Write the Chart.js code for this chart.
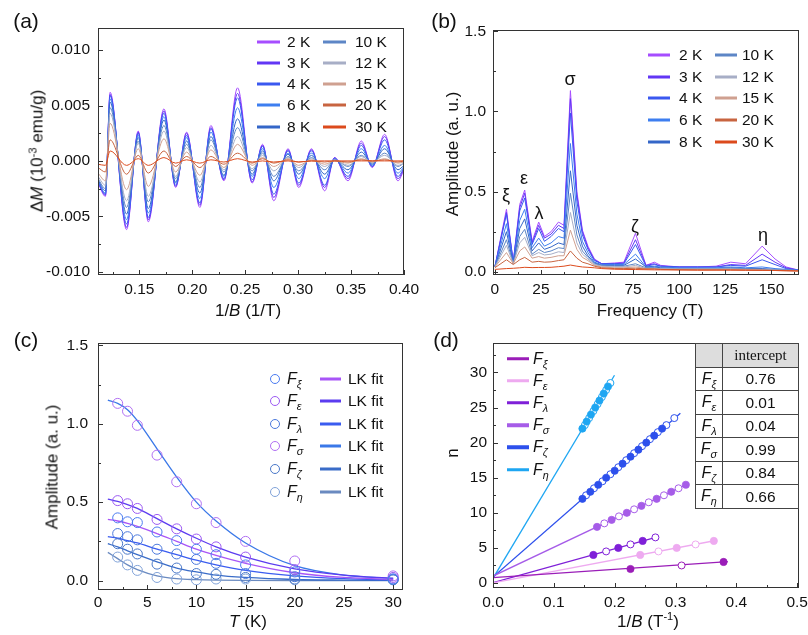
<!DOCTYPE html>
<html><head><meta charset="utf-8">
<script src="https://cdn.jsdelivr.net/npm/chart.js@4.4.1/dist/chart.umd.min.js"></script>
<style>
body{margin:0;background:#fff;}
#wrap{position:relative;width:808px;height:635px;overflow:hidden;font-family:'Liberation Sans',Arial,sans-serif;color:#111;}
canvas{position:absolute;left:0;top:0;}
.t{position:absolute;white-space:nowrap;line-height:1;}
.c{transform:translate(-50%,-50%);}
.r{transform:translate(-50%,-50%) rotate(-90deg);}
.lt{position:absolute;white-space:nowrap;line-height:1;transform:translateY(-50%);font-size:15.5px;}
.sw{position:absolute;height:3px;transform:translateY(-50%);}
.cir{position:absolute;width:8px;height:8px;border-radius:50%;border:1px solid;transform:translate(-50%,-50%);background:#fff;}
sub{font-size:68%;vertical-align:-0.35em;line-height:0;}
sup{font-size:65%;vertical-align:0.55em;line-height:0;}
table.tb{position:absolute;left:695px;top:343px;border-collapse:collapse;}
table.tb td{border:1px solid #444;height:22.5px;padding:0;text-align:center;font-size:15.5px;line-height:1;}
</style></head>
<body><div id="wrap">
<canvas id="ca" width="808" height="635"></canvas>
<canvas id="cb" width="808" height="635"></canvas>
<canvas id="cc" width="808" height="635"></canvas>
<canvas id="cd" width="808" height="635"></canvas>
</div>
<script>
// ---------------- DATA ----------------
const tempLabels = ['2 K','3 K','4 K','6 K','8 K','10 K','12 K','15 K','20 K','30 K'];
const tempColors = ['#a64dff','#6236f5','#3a58f0','#3d7ef0','#3466c8','#5d86c6','#a7aec6','#cfa090','#c86440','#dc4a1c'];

// (a) ΔM vs 1/B
const invB_a = [0.111,0.118,0.1224,0.138,0.149,0.1585,0.1733,0.1843,0.1947,0.2072,0.2176,0.2299,0.2428,0.2566,0.2664,0.2770,0.2905,0.3006,0.3126,0.3251,0.3345,0.3471,0.3597,0.370,0.3817,0.3943,0.400];
const dM_2K  = [-0.0020,-0.0032,0.0062,-0.0062,0.0027,-0.0055,0.0047,-0.0024,0.0026,-0.0042,0.0032,-0.0018,0.0066,-0.0020,0.0015,-0.0036,0.0011,-0.0024,0.0011,-0.0027,0.0003,-0.0018,0.0018,-0.0006,0.0024,-0.0018,-0.0008];
const dM_3K  = [-0.0019,-0.0031,0.0060,-0.0060,0.0026,-0.0053,0.0045,-0.0023,0.0025,-0.0040,0.0030,-0.0017,0.0061,-0.0019,0.0014,-0.0033,0.0010,-0.0022,0.0010,-0.0024,0.0003,-0.0016,0.0016,-0.0005,0.0022,-0.0016,-0.0007];
const dM_4K  = [-0.0019,-0.0030,0.0059,-0.0057,0.0025,-0.0051,0.0043,-0.0022,0.0023,-0.0038,0.0029,-0.0016,0.0057,-0.0017,0.0013,-0.0030,0.0009,-0.0020,0.0009,-0.0022,0.0002,-0.0014,0.0014,-0.0005,0.0019,-0.0014,-0.0006];
const dM_6K  = [-0.0018,-0.0029,0.0056,-0.0053,0.0023,-0.0047,0.0040,-0.0020,0.0021,-0.0034,0.0026,-0.0014,0.0048,-0.0014,0.0011,-0.0024,0.0007,-0.0016,0.0007,-0.0016,0.0002,-0.0011,0.0011,-0.0004,0.0014,-0.0011,-0.0005];
const dM_8K  = [-0.0017,-0.0027,0.0053,-0.0048,0.0021,-0.0043,0.0037,-0.0019,0.0018,-0.0029,0.0022,-0.0013,0.0038,-0.0012,0.0009,-0.0018,0.0006,-0.0012,0.0005,-0.0012,0.0001,-0.0008,0.0008,-0.0003,0.0011,-0.0008,-0.0004];
const dM_10K = [-0.0016,-0.0025,0.0048,-0.0042,0.0018,-0.0037,0.0032,-0.0016,0.0015,-0.0024,0.0019,-0.0010,0.0030,-0.0009,0.0007,-0.0014,0.0004,-0.0009,0.0003,-0.0008,0.0001,-0.0005,0.0005,-0.0002,0.0007,-0.0005,-0.0002];
const dM_12K = [-0.0014,-0.0022,0.0043,-0.0036,0.0016,-0.0032,0.0027,-0.0014,0.0012,-0.0019,0.0014,-0.0008,0.0022,-0.0007,0.0005,-0.0009,0.0003,-0.0006,0.0002,-0.0005,0.0001,-0.0004,0.0004,-0.0001,0.0005,-0.0004,-0.0002];
const dM_15K = [-0.0011,-0.0018,0.0034,-0.0026,0.0011,-0.0023,0.0020,-0.0010,0.0008,-0.0013,0.0010,-0.0006,0.0015,-0.0004,0.0003,-0.0005,0.0002,-0.0004,0.0001,-0.0003,0.0000,-0.0002,0.0002,-0.0001,0.0002,-0.0002,-0.0001];
const dM_20K = [-0.0006,-0.0010,0.0019,-0.0012,0.0005,-0.0011,0.0009,-0.0005,0.0004,-0.0006,0.0004,-0.0003,0.0007,-0.0002,0.0002,-0.0002,0.0001,-0.0001,0.0000,-0.0001,0.0000,-0.0001,0.0001,0.0000,0.0001,-0.0001,0.0000];
const dM_30K = [-0.0003,-0.0004,0.0009,-0.0004,0.0002,-0.0004,0.0003,-0.0002,0.0001,-0.0002,0.0001,-0.0001,0.0002,-0.0001,0.0000,-0.0001,0.0000,-0.0001,0.0000,0.0000,0.0000,0.0000,0.0000,0.0000,0.0000,0.0000,0.0000];
const xTicksA = [0.15,0.20,0.25,0.30,0.35,0.40];
const yTicksA = [-0.010,-0.005,0.000,0.005,0.010];

// (b) FFT amplitude vs frequency
const freqB = [0,6.3,10,13.5,16.2,20.2,23.8,26.9,30.5,34.5,37.5,41,44.5,47.5,50.5,54,58,65,70,76.3,82,86.5,90,100,110,120,128,136,145,152,158,165];
const fft_2K  = [0.03,0.39,0.06,0.42,0.51,0.19,0.31,0.22,0.25,0.31,0.29,1.13,0.50,0.26,0.16,0.08,0.05,0.055,0.06,0.24,0.04,0.06,0.04,0.03,0.03,0.035,0.06,0.05,0.16,0.08,0.03,0.01];
const fft_3K  = [0.03,0.37,0.06,0.40,0.49,0.18,0.29,0.21,0.235,0.29,0.27,1.08,0.48,0.25,0.15,0.075,0.05,0.05,0.055,0.20,0.04,0.05,0.035,0.03,0.03,0.03,0.045,0.04,0.11,0.06,0.025,0.01];
const fft_4K  = [0.03,0.36,0.06,0.38,0.46,0.17,0.27,0.19,0.22,0.27,0.25,0.99,0.44,0.23,0.14,0.07,0.05,0.05,0.05,0.17,0.035,0.045,0.035,0.03,0.03,0.03,0.04,0.035,0.075,0.045,0.02,0.01];
const fft_6K  = [0.03,0.30,0.05,0.32,0.39,0.15,0.21,0.16,0.18,0.22,0.21,0.80,0.36,0.19,0.12,0.06,0.045,0.045,0.045,0.11,0.03,0.035,0.03,0.025,0.025,0.025,0.03,0.025,0.03,0.02,0.015,0.01];
const fft_8K  = [0.03,0.25,0.05,0.27,0.33,0.13,0.18,0.14,0.155,0.18,0.17,0.63,0.29,0.16,0.10,0.055,0.04,0.04,0.04,0.08,0.03,0.03,0.025,0.02,0.02,0.02,0.025,0.02,0.02,0.015,0.012,0.008];
const fft_10K = [0.03,0.20,0.05,0.22,0.265,0.11,0.14,0.12,0.13,0.15,0.145,0.49,0.23,0.13,0.09,0.05,0.04,0.035,0.035,0.05,0.025,0.025,0.02,0.02,0.02,0.02,0.02,0.02,0.015,0.012,0.01,0.008];
const fft_12K = [0.03,0.165,0.05,0.18,0.215,0.10,0.12,0.105,0.11,0.125,0.12,0.37,0.18,0.11,0.08,0.045,0.035,0.03,0.03,0.04,0.02,0.02,0.02,0.018,0.018,0.018,0.018,0.015,0.012,0.01,0.01,0.008];
const fft_15K = [0.03,0.12,0.05,0.13,0.155,0.085,0.095,0.085,0.09,0.10,0.10,0.26,0.14,0.09,0.07,0.04,0.03,0.025,0.025,0.03,0.02,0.02,0.015,0.015,0.015,0.015,0.015,0.012,0.01,0.01,0.008,0.006];
const fft_20K = [0.025,0.075,0.045,0.075,0.09,0.06,0.065,0.06,0.062,0.07,0.075,0.13,0.085,0.06,0.05,0.035,0.025,0.02,0.02,0.022,0.018,0.018,0.015,0.013,0.012,0.012,0.012,0.01,0.01,0.008,0.006,0.005];
const fft_30K = [0.015,0.02,0.022,0.025,0.028,0.026,0.027,0.027,0.028,0.032,0.035,0.042,0.035,0.03,0.028,0.025,0.02,0.016,0.015,0.014,0.013,0.012,0.012,0.011,0.01,0.01,0.01,0.01,0.009,0.008,0.007,0.005];
const xTicksB = [0,25,50,75,100,125,150];
const yTicksB = [0.0,0.5,1.0,1.5];
const peakNames = ['ξ','ε','λ','σ','ζ','η'];

// (c) amplitude vs temperature
const T_pts = [2,3,4,6,8,10,12,15,20,30];
const amp_xi   = [0.40,0.375,0.37,0.31,0.255,0.20,0.165,0.10,0.055,0.01];
const amp_eps  = [0.51,0.49,0.46,0.39,0.33,0.265,0.215,0.15,0.07,0.02];
const amp_lam  = [0.30,0.28,0.26,0.20,0.17,0.135,0.11,0.045,0.025,0.01];
const amp_sig  = [1.13,1.08,0.99,0.80,0.63,0.49,0.37,0.25,0.125,0.03];
const amp_zeta = [0.235,0.20,0.17,0.105,0.08,0.045,0.04,0.02,0.01,0.005];
const amp_eta  = [0.15,0.10,0.065,0.02,0.01,0.005,0.01,0.01,0.005,0.005];
const T_fit = [1,2,3,4,6,8,10,12,15,20,25,30];
const fit_xi   = [0.39,0.38,0.365,0.345,0.30,0.25,0.20,0.16,0.11,0.05,0.02,0.008];
const fit_eps  = [0.52,0.505,0.485,0.46,0.395,0.33,0.27,0.215,0.15,0.075,0.035,0.015];
const fit_lam  = [0.28,0.27,0.255,0.24,0.20,0.165,0.13,0.10,0.065,0.03,0.012,0.005];
const fit_sig  = [1.15,1.13,1.09,1.02,0.84,0.66,0.50,0.38,0.24,0.095,0.035,0.012];
const fit_zeta = [0.235,0.215,0.19,0.165,0.12,0.08,0.055,0.035,0.02,0.007,0.003,0.001];
const fit_eta  = [0.18,0.14,0.10,0.07,0.03,0.012,0.006,0.003,0.001,0,0,0];
const xTicksC = [0,5,10,15,20,25,30];
const yTicksC = [0.0,0.5,1.0,1.5];
const circleColorsC = ['#4a7bf0','#9b59f2','#4a78dc','#b06ff2','#4a78c8','#80a2d8'];
const fitColorsC = ['#a855f7','#5b3cf0','#3a5cf0','#3a78e8','#3a6cc8','#6a8ac0'];

// (d) Landau fan diagram
const colorsD = ['#9a1db8','#eeaaf0','#7f20d8','#a65ce8','#2d50ec','#1ea6f2'];
const xi_fill_x = [0.226,0.379], xi_fill_n = [2,3];
const xi_open_x = [0.310], xi_open_n = [2.5];
const xi_line_x = [0,0.386], xi_line_n = [0.76,3.05];
const eps_fill_x = [0.242,0.302,0.363], eps_fill_n = [4,5,6];
const eps_open_x = [0.272,0.333], eps_open_n = [4.5,5.5];
const eps_line_x = [0,0.366], eps_line_n = [0.01,6.06];
const lam_fill_x = [0.165,0.206,0.246], lam_fill_n = [4,5,6];
const lam_open_x = [0.186,0.226,0.267], lam_open_n = [4.5,5.5,6.5];
const lam_line_x = [0,0.272], lam_line_n = [0.04,6.6];
const sig_fill_x = [0.171,0.195,0.220,0.244,0.269,0.293,0.317], sig_fill_n = [8,9,10,11,12,13,14];
const sig_open_x = [0.183,0.207,0.232,0.256,0.281,0.305], sig_open_n = [8.5,9.5,10.5,11.5,12.5,13.5];
const sig_line_x = [0,0.322], sig_line_n = [0.99,14.2];
const zeta_fill_x = [0.147,0.160,0.173,0.186,0.200,0.213,0.226,0.239,0.252,0.265,0.278], zeta_fill_n = [12,13,14,15,16,17,18,19,20,21,22];
const zeta_open_x = [0.153,0.166,0.180,0.193,0.206,0.219,0.232,0.245,0.258,0.271,0.285,0.298], zeta_open_n = [12.5,13.5,14.5,15.5,16.5,17.5,18.5,19.5,20.5,21.5,22.5,23.5];
const zeta_line_x = [0,0.308], zeta_line_n = [0.84,24.2];
const eta_fill_x = [0.147,0.154,0.161,0.168,0.175,0.182,0.189], eta_fill_n = [22,23,24,25,26,27,28];
const eta_open_x = [0.151,0.158,0.165,0.172,0.179,0.186,0.193], eta_open_n = [22.5,23.5,24.5,25.5,26.5,27.5,28.5];
const eta_line_x = [0,0.1997], eta_line_n = [0.66,29.6];
const interceptVals = ['0.76','0.01','0.04','0.99','0.84','0.66'];
const xTicksD = [0.0,0.1,0.2,0.3,0.4,0.5];
const yTicksD = [0,5,10,15,20,25,30];

// ---------------- HELPERS ----------------
const FONT = "'Liberation Sans', Arial, sans-serif";
Chart.defaults.font.family = FONT;
Chart.defaults.color = '#111';

const framePlugin = {
  id: 'frame',
  afterDatasetsDraw(chart) {
    const {ctx, chartArea: a, scales: {x, y}} = chart;
    const o = chart.options.plugins.frame;
    ctx.save();
    ctx.strokeStyle = '#333'; ctx.lineWidth = 1;
    ctx.strokeRect(a.left + 0.5, a.top + 0.5, a.right - a.left - 1, a.bottom - a.top - 1);
    const minors = (ticks, lo, hi) => {
      const st = ticks[1] - ticks[0], out = [];
      for (let v = ticks[0] - st / 2; v <= hi + 1e-12; v += st) if (v >= lo - 1e-12) out.push(v);
      return out;
    };
    const tx = (v, len) => { const p = Math.round(x.getPixelForValue(v)) + 0.5; ctx.beginPath(); ctx.moveTo(p, a.bottom); ctx.lineTo(p, a.bottom - len); ctx.stroke(); };
    const ty = (v, len) => { const p = Math.round(y.getPixelForValue(v)) + 0.5; ctx.beginPath(); ctx.moveTo(a.left, p); ctx.lineTo(a.left + len, p); ctx.stroke(); };
    o.xt.forEach(v => tx(v, 5)); minors(o.xt, x.min, x.max).forEach(v => tx(v, 3));
    o.yt.forEach(v => ty(v, 5)); minors(o.yt, y.min, y.max).forEach(v => ty(v, 3));
    ctx.restore();
  }
};

function makeChart(id, area, ax, datasets) {
  const W = 808, H = 635, YW = 70, XH = 40;
  return new Chart(document.getElementById(id), {
    type: 'scatter',
    data: { datasets },
    options: {
      responsive: false, animation: false, events: [],
      layout: { padding: { left: area.l - YW, top: area.t, right: W - area.r, bottom: H - area.b - XH } },
      plugins: { legend: { display: false }, tooltip: { enabled: false }, frame: { xt: ax.xt, yt: ax.yt } },
      scales: {
        x: { type: 'linear', position: 'bottom', min: ax.xMin, max: ax.xMax,
          grid: { display: false, drawTicks: false }, border: { display: false },
          afterBuildTicks: s => { s.ticks = ax.xt.map(v => ({ value: v })); },
          afterFit: s => { s.height = XH; s.paddingLeft = 0; s.paddingRight = 0; },
          ticks: { padding: ax.xPad, maxRotation: 0, autoSkip: false, callback: ax.xf, font: { size: 15.5 }, color: '#111' } },
        y: { type: 'linear', position: 'left', min: ax.yMin, max: ax.yMax,
          grid: { display: false, drawTicks: false }, border: { display: false },
          afterBuildTicks: s => { s.ticks = ax.yt.map(v => ({ value: v })); },
          afterFit: s => { s.width = YW; s.paddingTop = 0; s.paddingBottom = 0; },
          ticks: { padding: ax.yPad, autoSkip: false, callback: ax.yf, font: { size: 15.5 }, color: '#111' } }
      }
    },
    plugins: [framePlugin]
  });
}
const pts = (xs, ys) => xs.map((x, i) => ({ x, y: ys[i] }));

// ---------------- PANEL A ----------------
const seriesA = [dM_2K, dM_3K, dM_4K, dM_6K, dM_8K, dM_10K, dM_12K, dM_15K, dM_20K, dM_30K];
makeChart('ca', { l: 98, t: 28, r: 404, b: 275 },
  { xMin: 0.111, xMax: 0.40, yMin: -0.0103, yMax: 0.012, xt: xTicksA, yt: yTicksA, xPad: 5, yPad: 8,
    xf: v => v.toFixed(2), yf: v => v.toFixed(3) },
  seriesA.map((arr, i) => ({ label: tempLabels[i], data: pts(invB_a, arr), showLine: true, pointRadius: 0,
    borderColor: tempColors[i], borderWidth: 1, cubicInterpolationMode: 'monotone', order: 10 - i })));

// ---------------- PANEL B ----------------
const seriesB = [fft_2K, fft_3K, fft_4K, fft_6K, fft_8K, fft_10K, fft_12K, fft_15K, fft_20K, fft_30K];
makeChart('cb', { l: 493, t: 30, r: 799, b: 275 },
  { xMin: -1, xMax: 165, yMin: -0.02, yMax: 1.508, xt: xTicksB, yt: yTicksB, xPad: 5, yPad: 7,
    xf: v => String(v), yf: v => v.toFixed(1) },
  seriesB.map((arr, i) => ({ label: tempLabels[i], data: pts(freqB, arr), showLine: true, pointRadius: 0,
    borderColor: tempColors[i], borderWidth: 1, tension: 0, order: 10 - i })));

// ---------------- PANEL C ----------------
const ampC = [amp_xi, amp_eps, amp_lam, amp_sig, amp_zeta, amp_eta];
const fitC = [fit_xi, fit_eps, fit_lam, fit_sig, fit_zeta, fit_eta];
const dsC = [];
fitC.forEach((arr, i) => dsC.push({ label: 'LK fit', data: pts(T_fit, arr), showLine: true, pointRadius: 0,
  borderColor: fitColorsC[i], borderWidth: 1.3, cubicInterpolationMode: 'monotone', order: 20 }));
ampC.forEach((arr, i) => dsC.push({ label: 'F' + peakNames[i], data: pts(T_pts, arr), showLine: false, pointRadius: 5,
  pointBorderWidth: 1, pointBorderColor: circleColorsC[i], pointBackgroundColor: 'rgba(255,255,255,0)', order: 1 }));
makeChart('cc', { l: 98, t: 343, r: 403, b: 590 },
  { xMin: 0, xMax: 31, yMin: -0.06, yMax: 1.515, xt: xTicksC, yt: yTicksC, xPad: 3, yPad: 10,
    xf: v => String(v), yf: v => v.toFixed(1) }, dsC);

// ---------------- PANEL D ----------------
const fanD = [
  [xi_line_x, xi_line_n, xi_fill_x, xi_fill_n, xi_open_x, xi_open_n],
  [eps_line_x, eps_line_n, eps_fill_x, eps_fill_n, eps_open_x, eps_open_n],
  [lam_line_x, lam_line_n, lam_fill_x, lam_fill_n, lam_open_x, lam_open_n],
  [sig_line_x, sig_line_n, sig_fill_x, sig_fill_n, sig_open_x, sig_open_n],
  [zeta_line_x, zeta_line_n, zeta_fill_x, zeta_fill_n, zeta_open_x, zeta_open_n],
  [eta_line_x, eta_line_n, eta_fill_x, eta_fill_n, eta_open_x, eta_open_n]];
const dsD = [];
fanD.forEach((s, i) => {
  dsD.push({ data: pts(s[0], s[1]), showLine: true, pointRadius: 0, borderColor: colorsD[i], borderWidth: 1.3, order: 5 });
  dsD.push({ data: pts(s[4], s[5]), showLine: false, pointRadius: 3.5, pointBorderWidth: 1, pointBorderColor: colorsD[i], pointBackgroundColor: '#fff', order: 2 });
  dsD.push({ data: pts(s[2], s[3]), showLine: false, pointRadius: 3.6, pointBorderWidth: 0.8, pointBorderColor: colorsD[i], pointBackgroundColor: colorsD[i], order: 1 });
});
makeChart('cd', { l: 493, t: 343, r: 799, b: 588 },
  { xMin: 0, xMax: 0.503, yMin: -0.71, yMax: 34.2, xt: xTicksD, yt: yTicksD, xPad: 5, yPad: 6,
    xf: v => v.toFixed(1), yf: v => String(v) }, dsD);

// ---------------- TEXT OVERLAYS ----------------
const wrap = document.getElementById('wrap');
function txt(html, x, y, size, cls, extra) {
  const d = document.createElement('div');
  d.className = 't ' + (cls || 'c');
  d.style.left = x + 'px'; d.style.top = y + 'px'; d.style.fontSize = size + 'px';
  if (extra) d.style.cssText += extra;
  d.innerHTML = html; wrap.appendChild(d); return d;
}
function swatch(x, y, w, color, h) {
  const d = document.createElement('div'); d.className = 'sw';
  d.style.left = x + 'px'; d.style.top = y + 'px'; d.style.width = w + 'px'; d.style.background = color;
  if (h) d.style.height = h + 'px';
  wrap.appendChild(d);
}
function ltext(html, x, y, size) {
  const d = document.createElement('div'); d.className = 'lt';
  d.style.left = x + 'px'; d.style.top = y + 'px'; if (size) d.style.fontSize = size + 'px';
  d.innerHTML = html; wrap.appendChild(d);
}
function circ(x, y, color) {
  const d = document.createElement('div'); d.className = 'cir';
  d.style.left = x + 'px'; d.style.top = y + 'px'; d.style.borderColor = color; wrap.appendChild(d);
}
const Fsub = g => '<i>F</i><sub><i>' + g + '</i></sub>';

// panel labels
txt('(a)', 26, 20, 21); txt('(b)', 444, 20, 21); txt('(c)', 26, 339, 21); txt('(d)', 446, 339, 21);
// axis titles
txt('1/<i>B</i> (1/T)', 248, 310, 17);
txt('Δ<i>M</i> (10<sup>-3</sup> emu/g)', 37, 151, 17, 'r');
txt('Frequency (T)', 650, 310, 17);
txt('Amplitude (a. u.)', 452, 154, 17, 'r');
txt('<i>T</i> (K)', 248, 621, 17);
txt('Amplitude (a. u.)', 52, 467, 17, 'r');
txt('1/<i>B</i> (T<sup>-1</sup>)', 648, 621, 17);
txt('n', 452, 453, 17, 'r');

// legend (a)
tempLabels.forEach((lab, i) => {
  const col = i < 5 ? 0 : 1, row = i % 5, y = 41.7 + row * 21.2;
  swatch(col ? 323 : 257, y, 23, tempColors[i], 3);
  ltext(lab, col ? 355 : 287, y);
});
// legend (b)
tempLabels.forEach((lab, i) => {
  const col = i < 5 ? 0 : 1, row = i % 5, y = 55 + row * 21.7;
  swatch(col ? 715 : 648, y, 22, tempColors[i], 3);
  ltext(lab, col ? 742 : 679, y);
});
// peak annotations (b)
const peakPos = [[506, 195], [524, 178], [539, 213], [570, 79], [635, 226], [763, 235]];
peakNames.forEach((g, i) => txt(g, peakPos[i][0], peakPos[i][1], 18));

// legend (c)
peakNames.forEach((g, i) => {
  const y = 378.5 + i * 22.6;
  circ(275, y, circleColorsC[i]);
  ltext(Fsub(g), 287, y, 16);
  swatch(320, y, 21, fitColorsC[i], 3);
  ltext('LK fit', 348, y);
});
// legend (d)
peakNames.forEach((g, i) => {
  const y = 358.5 + i * 22.2;
  swatch(507, y, 22, colorsD[i], 3.5);
  ltext(Fsub(g), 533, y, 16);
});
// table (d)
let html = '<table class="tb"><tr><td style="width:26px;background:#ddd"></td><td style="width:75px;background:#ddd;font-family:\'Liberation Serif\',serif;font-size:15px">intercept</td></tr>';
peakNames.forEach((g, i) => { html += '<tr><td style="font-size:16px">' + Fsub(g) + '</td><td>' + interceptVals[i] + '</td></tr>'; });
html += '</table>';
wrap.insertAdjacentHTML('beforeend', html);
</script>
</body></html>
